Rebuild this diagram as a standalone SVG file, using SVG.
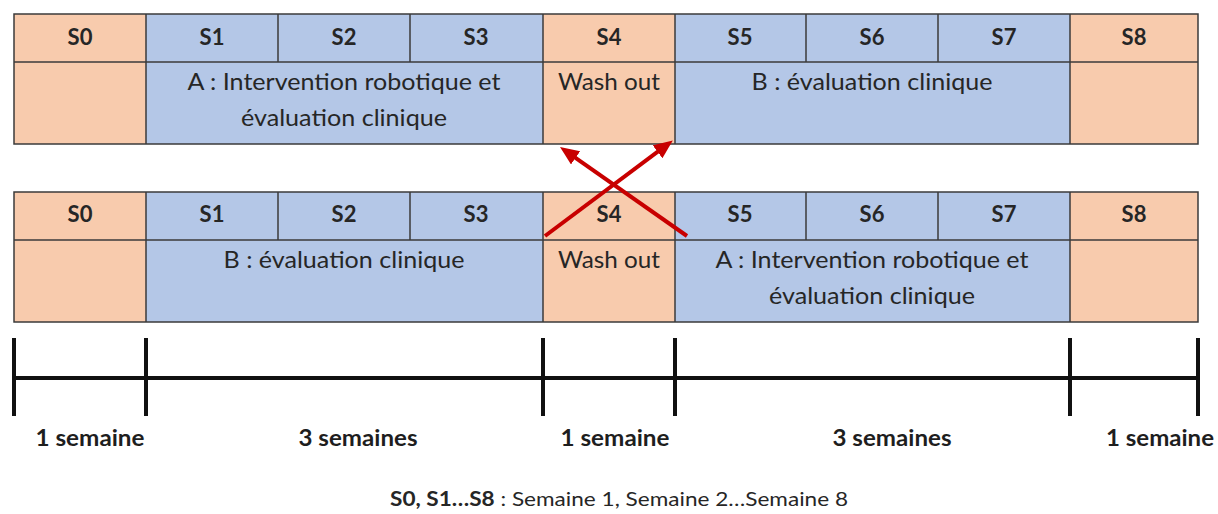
<svg xmlns="http://www.w3.org/2000/svg" width="1218" height="514" viewBox="0 0 1218 514">
  <style>
    .orange { fill: #F8CBAD; }
    .blue { fill: #B4C7E7; }
    .grid { fill: none; stroke: #3b3b3b; stroke-width: 1.5; }
    .hdr { font-family: Lato, "Open Sans", sans-serif; font-weight: bold; font-size: 22px; fill: #262626; text-anchor: middle; }
    .cell { font-family: Lato, "Open Sans", sans-serif; font-size: 24px; fill: #262626; text-anchor: middle; }
    .dur { font-family: Lato, "Open Sans", sans-serif; font-weight: bold; font-size: 23px; fill: #1e1e1e; text-anchor: middle; }
    .legend { font-family: Lato, "Open Sans", sans-serif; font-size: 20px; fill: #262626; text-anchor: middle; }
    .axis { stroke: #111; stroke-width: 4; fill: none; }
    .cross { stroke: #C80000; stroke-width: 4; fill: none; marker-end: url(#head); }
  </style>
  <defs>
    <marker id="head" markerUnits="userSpaceOnUse" markerWidth="20" markerHeight="18" refX="4" refY="8" orient="auto">
      <path d="M0,0 L19,8 L0,16 z" fill="#C80000"/>
    </marker>
  </defs>
  <rect width="1218" height="514" fill="#ffffff"/>

  <!-- Sequence 1: A then B -->
  <g id="sequence-ab">
    <rect class="orange" x="14" y="14" width="132" height="130"/>
    <rect class="blue" x="146" y="14" width="397" height="130"/>
    <rect class="orange" x="543" y="14" width="132" height="130"/>
    <rect class="blue" x="675" y="14" width="395" height="130"/>
    <rect class="orange" x="1070" y="14" width="128" height="130"/>
    <path class="grid" d="M14,14 H1198 V144 H14 Z M14,62 H1198 M146,14 V144 M278,14 V62 M410,14 V62 M543,14 V144 M675,14 V144 M806,14 V62 M938,14 V62 M1070,14 V144"/>
    <text class="hdr" x="80" y="45">S0</text>
    <text class="hdr" x="212" y="45">S1</text>
    <text class="hdr" x="344" y="45">S2</text>
    <text class="hdr" x="476" y="45">S3</text>
    <text class="hdr" x="609" y="45">S4</text>
    <text class="hdr" x="740" y="45">S5</text>
    <text class="hdr" x="872" y="45">S6</text>
    <text class="hdr" x="1004" y="45">S7</text>
    <text class="hdr" x="1134" y="45">S8</text>
    <text class="cell" x="344" y="90" textLength="313" lengthAdjust="spacingAndGlyphs">A : Intervention robotique et</text>
    <text class="cell" x="344" y="126" textLength="206" lengthAdjust="spacingAndGlyphs">évaluation clinique</text>
    <text class="cell" x="609" y="90" textLength="102" lengthAdjust="spacingAndGlyphs">Wash out</text>
    <text class="cell" x="872" y="90" textLength="241" lengthAdjust="spacingAndGlyphs">B : évaluation clinique</text>
  </g>

  <!-- Sequence 2: B then A -->
  <g id="sequence-ba">
    <rect class="orange" x="14" y="192" width="132" height="130"/>
    <rect class="blue" x="146" y="192" width="397" height="130"/>
    <rect class="orange" x="543" y="192" width="132" height="130"/>
    <rect class="blue" x="675" y="192" width="395" height="130"/>
    <rect class="orange" x="1070" y="192" width="128" height="130"/>
    <path class="grid" d="M14,192 H1198 V322 H14 Z M14,240 H1198 M146,192 V322 M278,192 V240 M410,192 V240 M543,192 V322 M675,192 V322 M806,192 V240 M938,192 V240 M1070,192 V322"/>
    <text class="hdr" x="80" y="222">S0</text>
    <text class="hdr" x="212" y="222">S1</text>
    <text class="hdr" x="344" y="222">S2</text>
    <text class="hdr" x="476" y="222">S3</text>
    <text class="hdr" x="609" y="222">S4</text>
    <text class="hdr" x="740" y="222">S5</text>
    <text class="hdr" x="872" y="222">S6</text>
    <text class="hdr" x="1004" y="222">S7</text>
    <text class="hdr" x="1134" y="222">S8</text>
    <text class="cell" x="344" y="268" textLength="241" lengthAdjust="spacingAndGlyphs">B : évaluation clinique</text>
    <text class="cell" x="609" y="268" textLength="102" lengthAdjust="spacingAndGlyphs">Wash out</text>
    <text class="cell" x="872" y="268" textLength="313" lengthAdjust="spacingAndGlyphs">A : Intervention robotique et</text>
    <text class="cell" x="872" y="304" textLength="206" lengthAdjust="spacingAndGlyphs">évaluation clinique</text>
  </g>

  <!-- Crossover arrows between the two sequences -->
  <g id="connectors">
    <line class="cross" x1="545" y1="236" x2="660.8" y2="149.4"/>
    <line class="cross" x1="687" y1="236" x2="572.3" y2="155.6"/>
  </g>

  <!-- Time axis -->
  <g id="timeline">
    <path class="axis" d="M14,378 H1198 M14,338 V416 M146,338 V416 M543,338 V416 M675,338 V416 M1070,338 V416 M1198,338 V416"/>
    <text class="dur" x="90" y="446" textLength="109" lengthAdjust="spacingAndGlyphs">1 semaine</text>
    <text class="dur" x="358" y="446" textLength="119" lengthAdjust="spacingAndGlyphs">3 semaines</text>
    <text class="dur" x="615" y="446" textLength="109" lengthAdjust="spacingAndGlyphs">1 semaine</text>
    <text class="dur" x="892" y="446" textLength="119" lengthAdjust="spacingAndGlyphs">3 semaines</text>
    <text class="dur" x="1160" y="446" textLength="108" lengthAdjust="spacingAndGlyphs">1 semaine</text>
  </g>

  <!-- Legend -->
  <text id="legend" class="legend" x="619" y="506" textLength="458" lengthAdjust="spacingAndGlyphs"><tspan font-weight="bold">S0, S1…S8</tspan> : Semaine 1, Semaine 2…Semaine 8</text>
</svg>
